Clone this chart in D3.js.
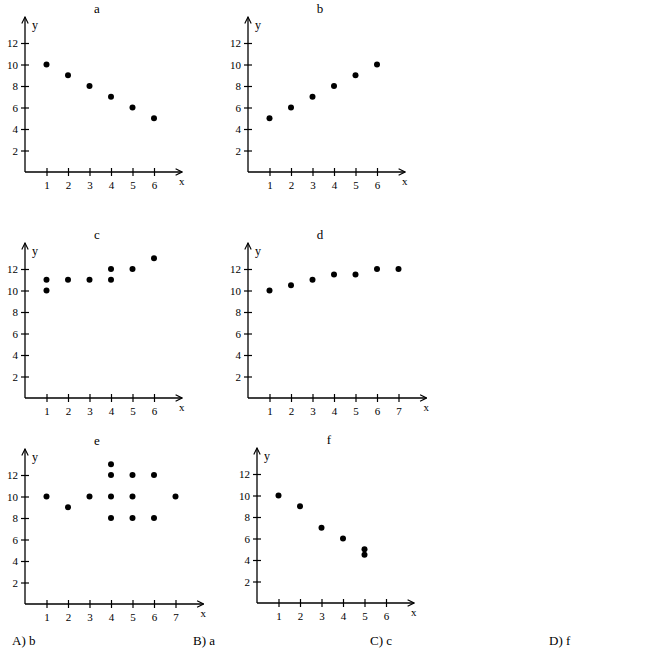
<!DOCTYPE html>
<html><head><meta charset="utf-8">
<script src="https://cdn.jsdelivr.net/npm/d3@7"></script>
<style>body{margin:0;background:#fff} svg text{font-family:"Liberation Serif","Times New Roman","DejaVu Serif",serif !important}</style>
</head><body><div id="graf"></div>
<script>
// -- Datos
titulos = ['a', 'b', 'c', 'd', 'e', 'f']
xMaxTicks = [6, 6, 6, 7, 7, 6]
yTicks = [2, 4, 6, 8, 10, 12]
puntosA = [[1,10],[2,9],[3,8],[4,7],[5,6],[6,5]]
puntosB = [[1,5],[2,6],[3,7],[4,8],[5,9],[6,10]]
puntosC = [[1,11],[1,10],[2,11],[3,11],[4,12],[4,11],[5,12],[6,13]]
puntosD = [[1,10],[2,10.5],[3,11],[4,11.5],[5,11.5],[6,12],[7,12]]
puntosE = [[1,10],[2,9],[3,10],[4,13],[4,12],[4,10],[4,8],[5,12],[5,10],[5,8],[6,12],[6,8],[7,10]]
puntosF = [[1,10],[2,9],[3,7],[4,6],[5,5],[5,4.5]]
respuestas = ['A) b', 'B) a', 'C) c', 'D) f']

puntos = [puntosA, puntosB, puntosC, puntosD, puntosE, puntosF]
origenes = [[25,172],[248,172],[25,398],[248,398],[25,604],[257,603]]
paso = 21.5

svg = d3.select('#graf').append('svg').attr('width', 650).attr('height', 660)

defs = svg.append('defs')
defs.append('marker').attr('id', 'flecha').attr('viewBox', '0 0 10 10')
    .attr('refX', 9).attr('refY', 5).attr('markerWidth', 8).attr('markerHeight', 8)
    .attr('orient', 'auto-start-reverse').attr('markerUnits', 'userSpaceOnUse')
  .append('path').attr('d', 'M1,1 L9,5 L1,9').attr('fill', 'none').attr('stroke', '#000').attr('stroke-width', 1.4)

titulos.forEach((t, i) => {
    const [ox, oy] = origenes[i]
    const n = xMaxTicks[i]
    const x = d3.scaleLinear().domain([0, n]).range([0, n * paso])
    const y = d3.scaleLinear().domain([0, 12]).range([0, -12 * paso / 2])
    const g = svg.append('g').attr('transform', `translate(${ox},${oy})`)

    // ejes con flecha
    g.append('line').attr('x1', 0).attr('y1', 0).attr('x2', x(n) + 28).attr('y2', 0)
        .attr('stroke', '#000').attr('stroke-width', 1.3).attr('marker-end', 'url(#flecha)')
    g.append('line').attr('x1', 0).attr('y1', 0).attr('x2', 0).attr('y2', y(12) - 26)
        .attr('stroke', '#000').attr('stroke-width', 1.3).attr('marker-end', 'url(#flecha)')

    const xAxis = d3.axisBottom(x).tickValues(d3.range(1, n + 1)).tickFormat(d3.format('d')).tickSize(4).tickSizeOuter(0)
    const gx = g.append('g').call(xAxis)
    gx.select('.domain').remove()
    gx.selectAll('.tick line').attr('y1', -4).attr('stroke-width', 1.2)
    gx.selectAll('.tick text').attr('font-size', 11).attr('fill', '#000').attr('dy', '0.9em')

    const yAxis = d3.axisLeft(y).tickValues(yTicks).tickFormat(d3.format('d')).tickSize(4).tickSizeOuter(0)
    const gy = g.append('g').call(yAxis)
    gy.select('.domain').remove()
    gy.selectAll('.tick line').attr('x2', 4).attr('x1', -4).attr('stroke-width', 1.2)
    gy.selectAll('.tick text').attr('font-size', 11).attr('fill', '#000')

    g.append('text').attr('x', 72).attr('y', y(12) - 30).attr('text-anchor', 'middle')
        .attr('font-size', 13).text(t)
    g.append('text').attr('x', 7).attr('y', y(12) - 14).attr('font-size', 12).text('y')
    g.append('text').attr('x', x(n) + 25).attr('y', 13).attr('font-size', 11).text('x')

    g.selectAll('circle').data(puntos[i]).enter().append('circle')
        .attr('cx', d => x(d[0])).attr('cy', d => y(d[1])).attr('r', 3).attr('fill', '#000')
})

svg.selectAll('.resp').data(respuestas).enter().append('text').attr('class', 'resp')
    .attr('x', (d, i) => [12, 193, 370, 549][i]).attr('y', 645)
    .attr('font-size', 13).text(d => d)
</script></body></html>
